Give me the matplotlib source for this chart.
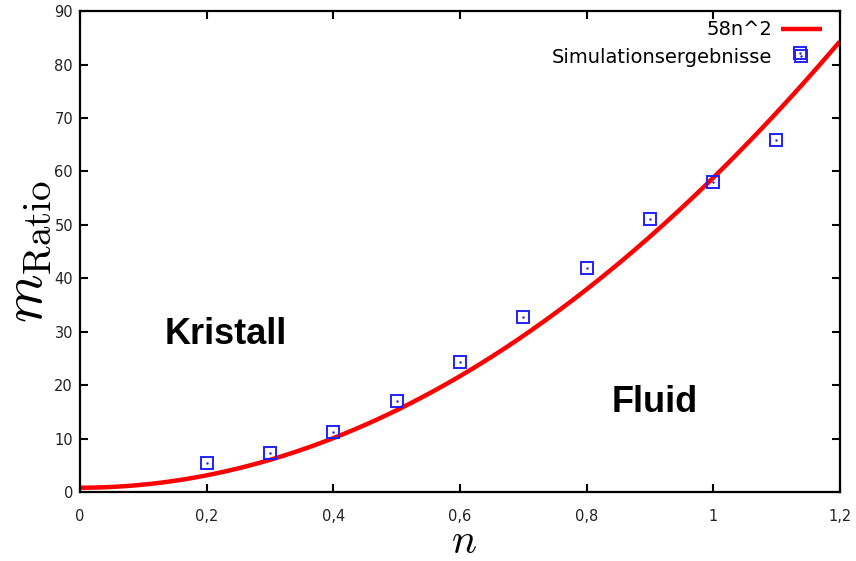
import numpy as np
import matplotlib
matplotlib.use("Agg")
import matplotlib.pyplot as plt
from matplotlib.legend_handler import HandlerTuple

# simulation results
n_sim = [0.2, 0.3, 0.4, 0.5, 0.6, 0.7, 0.8, 0.9, 1.0, 1.1, 1.137]
m_sim = [5.4, 7.3, 11.2, 17.0, 24.3, 32.7, 41.9, 51.1, 58.0, 65.9, 82.1]

# fitted curve 58 n^2 (drawn with a small offset as in the original)
coef = 58.0
offset = 0.8

x_ticks = [0, 0.2, 0.4, 0.6, 0.8, 1.0, 1.2]
x_ticklabels = ["0", "0,2", "0,4", "0,6", "0,8", "1", "1,2"]
y_ticks = list(range(0, 91, 10))


def main():
    plt.rcParams["mathtext.fontset"] = "cm"
    fig = plt.figure(figsize=(8.56, 5.61), dpi=100)
    ax = fig.add_axes([0.0935, 0.123, 0.8875, 0.857])

    n = np.linspace(0, 1.2, 200)
    line, = ax.plot(n, coef * n ** 2 + offset, color="red", lw=3.2,
                    solid_capstyle="butt")
    sq, = ax.plot(n_sim, m_sim, ls="none", marker="s", ms=9,
                  mfc="none", mec="#2020ff", mew=1.4)
    dot, = ax.plot(n_sim, m_sim, ls="none", marker=".", ms=1.5,
                   color="#2020ff")

    ax.set_xlim(0, 1.2)
    ax.set_ylim(0, 90)
    ax.set_xticks(x_ticks)
    ax.set_xticklabels(x_ticklabels)
    ax.set_yticks(y_ticks)
    ax.tick_params(direction="in", length=6, width=1.5, top=True, right=True,
                   labelsize=10.5, labelcolor="#222222")
    ax.tick_params(axis="x", pad=12)
    ax.tick_params(axis="y", pad=5)
    for s in ax.spines.values():
        s.set_linewidth(1.6)

    ax.set_xlabel(r"$n$", fontsize=30)
    ax.xaxis.set_label_coords(0.506, -0.126, transform=ax.transAxes)
    ax.xaxis.label.set_va("baseline")
    ax.set_ylabel(r"$m_{\mathrm{Ratio}}$", fontsize=40)
    ax.yaxis.set_label_coords(-0.07, 0.5, transform=ax.transAxes)
    ax.yaxis.label.set_va("center")

    ax.text(0.134, 29.4, "Kristall", fontsize=26, fontweight="bold",
            family="Liberation Sans", va="center", ha="left")
    ax.text(0.84, 16.8, "Fluid", fontsize=26, fontweight="bold",
            family="Liberation Sans", va="center", ha="left")

    ax.legend([line, (sq, dot)], ["58n^2", "Simulationsergebnisse"],
              handler_map={tuple: HandlerTuple(ndivide=1, pad=0)},
              loc="upper right", bbox_to_anchor=(0.976, 0.981),
              frameon=False, markerfirst=False, alignment="right",
              prop={"family": "DejaVu Sans", "size": 14},
              handlelength=2.1, handletextpad=0.45, borderaxespad=0,
              borderpad=0, labelspacing=0.42)

    fig.savefig("out.png", dpi=100)


if __name__ == "__main__":
    main()
